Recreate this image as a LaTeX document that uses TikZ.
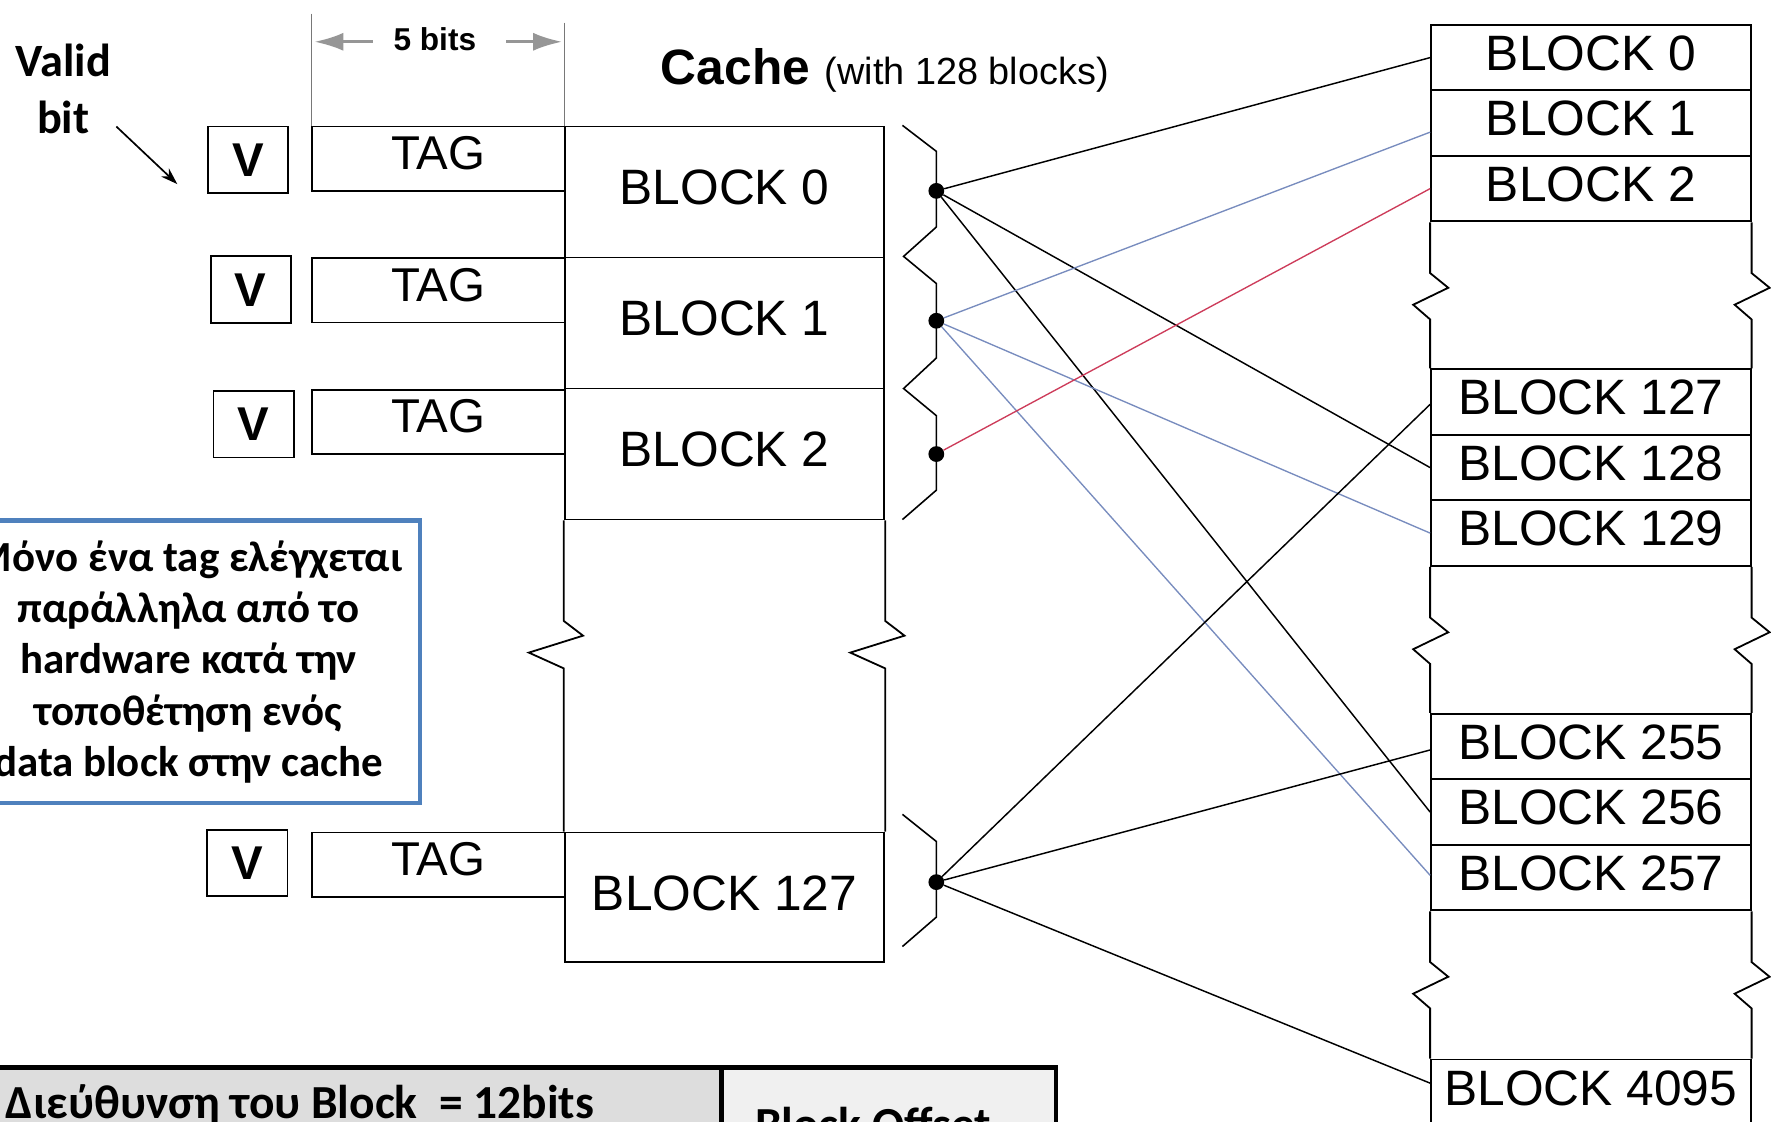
\documentclass[tikz,border=0pt]{standalone}
\usepackage{fontspec}
\setmainfont{Liberation Sans}
\newfontfamily\calib{Carlito}
\usetikzlibrary{arrows.meta}
\definecolor{noteblue}{RGB}{79,129,189}
\definecolor{lineblue}{RGB}{120,140,190}
\definecolor{linered}{RGB}{205,60,90}
\definecolor{cellA}{RGB}{221,221,221}
\definecolor{cellB}{RGB}{240,240,240}
\definecolor{dimgray}{RGB}{150,150,150}
\definecolor{dimline}{RGB}{120,120,120}
\begin{document}
\begin{tikzpicture}[x=1pt,y=-1pt,
  box/.style={draw, line width=1.6pt, inner sep=0pt},
  vbox/.style={box, minimum width=71pt, minimum height=59pt, font=\bfseries\fontsize{42}{42}\selectfont},
  tagbox/.style={box, minimum width=224pt, minimum height=57pt, text depth=10pt, font=\fontsize{42}{42}\selectfont},
  cblk/.style={box, minimum width=283pt, minimum height=116pt, text depth=8pt, font=\fontsize{44}{44}\selectfont},
  mblk/.style={box, minimum width=283pt, minimum height=58pt, text depth=8pt, font=\fontsize{44}{44}\selectfont},
  sideln/.style={line width=1.6pt},
  brk/.style={line width=1.4pt},
  dotn/.style={circle, fill=black, minimum size=14pt, inner sep=0pt},
  conk/.style={line width=1.3pt, black},
  conb/.style={line width=1.2pt, lineblue},
  conr/.style={line width=1.2pt, linered},
  dimln/.style={line width=1.1pt, dimline},
  dimarr/.style={line width=3pt, dimgray, -{Latex[length=26pt,width=16pt]}},
  notebox/.style={draw=noteblue, line width=4pt, minimum width=410pt, minimum height=250pt, align=center, inner sep=0pt, font=\calib\bfseries\fontsize{38}{45.5}\selectfont},
  tabcell/.style={draw=black, line width=4pt, minimum height=110pt, anchor=north west, inner sep=0pt},
  tabtxt/.style={inner sep=0pt, font=\calib\bfseries\fontsize{42}{42}\selectfont}
]
\useasboundingbox (0,0) rectangle (1568,993);

% ---- "Valid bit" label and arrow
\node[align=center, inner sep=0pt, anchor=north, font=\calib\bfseries\fontsize{41}{50}\selectfont] (valid) at (56,39) {Valid\\bit};
\coordinate (arrs) at (103,112);
\coordinate (arre) at (157,163);
\draw[line width=1.5pt, -{Stealth[length=15pt,width=10pt]}] (arrs) -- (arre);

% ---- 5 bits dimension
\draw[dimln] (276,12) -- (276,112);
\draw[dimln] (500,20) -- (500,112);
\node[inner sep=0pt, anchor=base, font=\bfseries\fontsize{28}{28}\selectfont] (fivebits) at (385,45) {5 bits};
\coordinate (la1) at (330,37);
\coordinate (la2) at (278,37);
\coordinate (ra1) at (448,37);
\coordinate (ra2) at (498,37);
\draw[dimarr] (la1) -- (la2);
\draw[dimarr] (ra1) -- (ra2);

% ---- Cache title
\node[anchor=base west, inner sep=0pt] (title) at (585,75) {\fontsize{33.5}{33.5}\selectfont{\bfseries\fontsize{44}{44}\selectfont Cache}\hspace{13pt}(with 128 blocks)};

% ---- V boxes
\node[vbox] (v0) at (219.5,141.5) {V};
\node[vbox] (v1) at (222,256.5) {V};
\node[vbox] (v2) at (224.5,375.5) {V};
\node[vbox] (v127) at (219,764) {V};

% ---- TAG boxes
\node[tagbox] (tag0) at (388,140.5) {TAG};
\node[tagbox] (tag1) at (388,257) {TAG};
\node[tagbox] (tag2) at (388,373.5) {TAG};
\node[tagbox] (tag127) at (388,765.5) {TAG};

% ---- Cache blocks
\node[cblk] (c0) at (641.5,170) {BLOCK 0};
\node[cblk] (c1) at (641.5,286) {BLOCK 1};
\node[cblk] (c2) at (641.5,402) {BLOCK 2};
\node[cblk, minimum height=115pt] (c127) at (641.5,794.5) {BLOCK 127};
\draw[sideln] (c2.south west) -- ++(0,89) -- ++(17,13) -- ++(-48,15) -- ++(31,14) -- (c127.north west);
\draw[sideln] (c2.south east) -- ++(0,89) -- ++(17,13) -- ++(-48,15) -- ++(31,14) -- (c127.north east);

% ---- braces and dots
\draw[brk] (799,111) -- (829,134) -- (829,201) -- (800,227) -- (829,251) -- (829,317) -- (800,344) -- (829,368) -- (829,434) -- (799,460);
\draw[brk] (799,721) -- (829,745) -- (829,812) -- (799,838);
\node[dotn] (d0) at (829,169) {};
\node[dotn] (d1) at (829,284) {};
\node[dotn] (d2) at (829,402) {};
\node[dotn] (d127) at (829,781) {};

% ---- Main memory blocks
\node[mblk] (m0) at (1408.5,51) {BLOCK 0};
\node[mblk] (m1) at (1408.5,109) {BLOCK 1};
\node[mblk] (m2) at (1408.5,167) {BLOCK 2};
\node[mblk] (m127) at (1408.5,356) {BLOCK 127};
\node[mblk] (m128) at (1408.5,414) {BLOCK 128};
\node[mblk] (m129) at (1408.5,472) {BLOCK 129};
\node[mblk] (m255) at (1408.5,661) {BLOCK 255};
\node[mblk] (m256) at (1408.5,719) {BLOCK 256};
\node[mblk] (m257) at (1408.5,777) {BLOCK 257};
\node[mblk] (m4095) at (1408.5,967) {BLOCK 4095};
\foreach \a/\b in {m2/m127, m129/m255, m257/m4095}{
  \draw[sideln] (\a.south west) -- ++(0,45) -- ++(16,13) -- ++(-31,15) -- ++(15,13) -- (\b.north west);
  \draw[sideln] (\a.south east) -- ++(0,45) -- ++(16,13) -- ++(-31,15) -- ++(15,13) -- (\b.north east);
}

% ---- connectors
\draw[conk] (d0) -- (m0.west);
\draw[conk] (d0) -- (m128.west);
\draw[conk] (d0) -- (m256.west);
\draw[conb] (d1) -- ([yshift=-8pt]m1.west);
\draw[conb] (d1) -- (m129.west);
\draw[conb] (d1) -- ([yshift=2pt]m257.west);
\draw[conr] (d2) -- (m2.west);
\draw[conk] (d127) -- ([yshift=-2pt]m127.west);
\draw[conk] (d127) -- ([yshift=-3pt]m255.west);
\draw[conk] (d127) -- ([yshift=8pt]m4095.west);

% ---- note box
\node[notebox] (note) at (167,586) {Μόνο ένα tag ελέγχεται\\παράλληλα από το\\hardware κατά την\\τοποθέτηση ενός\\data block στην cache};

% ---- address table
\node[tabcell, fill=cellA, minimum width=642pt] (addr) at (-5,943) {};
\node[tabcell, fill=cellB, minimum width=296pt] (offs) at (637,943) {};
\node[tabtxt, anchor=base west] (addrtxt) at (5,990) {Διεύθυνση του Block\ \ = 12bits};
\node[tabtxt, anchor=base] (offtxt) at (773,1010) {Block Offset};
\end{tikzpicture}
\end{document}
